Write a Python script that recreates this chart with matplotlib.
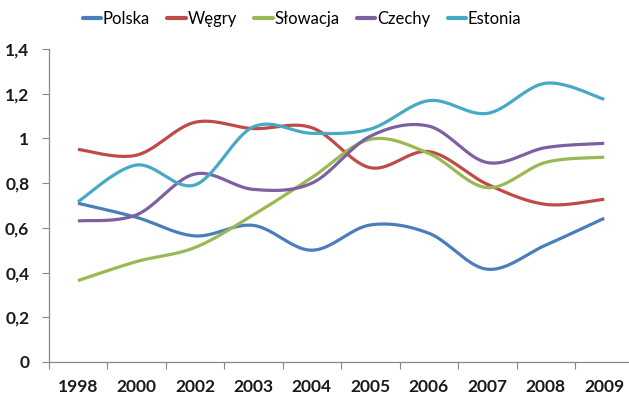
import numpy as np
import matplotlib
matplotlib.use("Agg")
import matplotlib.pyplot as plt
from matplotlib.ticker import FuncFormatter

years = ["1998", "2000", "2002", "2003", "2004", "2005", "2006", "2007", "2008", "2009"]
polska = [0.71, 0.647, 0.564, 0.611, 0.50, 0.613, 0.576, 0.415, 0.523, 0.643]
wegry = [0.951, 0.925, 1.072, 1.044, 1.048, 0.869, 0.941, 0.795, 0.705, 0.728]
slowacja = [0.364, 0.449, 0.512, 0.658, 0.825, 0.996, 0.933, 0.78, 0.893, 0.916]
czechy = [0.631, 0.658, 0.841, 0.772, 0.80, 1.01, 1.055, 0.892, 0.959, 0.978]
estonia = [0.717, 0.881, 0.792, 1.052, 1.023, 1.042, 1.169, 1.112, 1.247, 1.175]

series = [
    ("Polska", polska, "#4A7EBB"),
    ("Węgry", wegry, "#BE4B48"),
    ("Słowacja", slowacja, "#98B954"),
    ("Czechy", czechy, "#7D60A0"),
    ("Estonia", estonia, "#46AAC5"),
]


def smooth(xs, ys, n=40):
    """Cardinal (Catmull-Rom style) spline through the points, as cubic Beziers."""
    xs = np.asarray(xs, float)
    ys = np.asarray(ys, float)
    px = np.concatenate([[xs[0]], xs, [xs[-1]]])
    py = np.concatenate([[ys[0]], ys, [ys[-1]]])
    outx, outy = [], []
    t = np.linspace(0, 1, n)
    for i in range(1, len(px) - 2):
        p0 = np.array([px[i], py[i]])
        p3 = np.array([px[i + 1], py[i + 1]])
        c1 = p0 + (np.array([px[i + 1], py[i + 1]]) - np.array([px[i - 1], py[i - 1]])) / 6
        c2 = p3 - (np.array([px[i + 2], py[i + 2]]) - np.array([px[i], py[i]])) / 6
        b = ((1 - t) ** 3)[:, None] * p0 + (3 * (1 - t) ** 2 * t)[:, None] * c1 \
            + (3 * (1 - t) * t ** 2)[:, None] * c2 + (t ** 3)[:, None] * p3
        outx.extend(b[:, 0])
        outy.extend(b[:, 1])
    return np.array(outx), np.array(outy)


fig = plt.figure(figsize=(6.29, 3.96), dpi=100)
ax = fig.add_axes([48.7 / 629, 1 - 362 / 396, (633.5 - 48.7) / 629, 313 / 396])

x = np.arange(len(years))
for name, vals, color in series:
    sx, sy = smooth(x, vals)
    ax.plot(sx, sy, color=color, lw=2.3, label=name, solid_capstyle="butt")

ax.set_xlim(-0.5, len(years) - 0.5)
ax.set_ylim(0, 1.4)
ax.set_yticks(np.arange(0, 1.41, 0.2))
ax.yaxis.set_major_formatter(FuncFormatter(
    lambda v, p: "0" if abs(v) < 1e-9 else ("1" if abs(v - 1) < 1e-9 else f"{v:.1f}".replace(".", ","))))

ax.set_xticks(x)
ax.set_xticklabels(years)
ax.set_xticks(np.arange(-0.5, len(years)), minor=True)
ax.tick_params(axis="x", which="major", length=0, pad=12, labelsize=11.5, colors="#1a1a1a")
ax.tick_params(axis="x", which="minor", length=5, color="#888888", width=0.8)
ax.tick_params(axis="y", length=5, color="#888888", width=0.8, pad=9, labelsize=11.5,
               labelcolor="#1a1a1a")
for lab in ax.get_xticklabels() + ax.get_yticklabels():
    lab.set_fontweight("bold")
    lab.set_fontfamily("Lato")
    lab.set_fontsize(12.5)

for side in ("top", "right"):
    ax.spines[side].set_visible(False)
for side in ("left", "bottom"):
    ax.spines[side].set_color("#888888")
    ax.spines[side].set_linewidth(0.9)

leg = fig.legend(loc="center", bbox_to_anchor=(302 / 629, 1 - 19 / 396), ncol=5,
                 frameon=False, handlelength=1.1, handletextpad=0.1, columnspacing=1.05,
                 prop={"family": ["Lato", "DejaVu Sans"], "size": 12})
for line in leg.get_lines():
    line.set_linewidth(3)
    line.set_solid_capstyle("round")

fig.savefig("out.png", dpi=100)
